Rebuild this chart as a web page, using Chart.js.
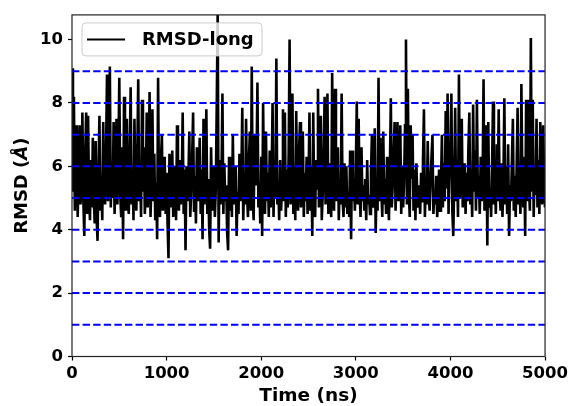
<!DOCTYPE html>
<html>
<head>
<meta charset="utf-8">
<script src="https://cdn.jsdelivr.net/npm/chart.js@4.4.1/dist/chart.umd.min.js"></script>
<style>
  html, body { margin: 0; padding: 0; background: #fff; }
  #wrap { width: 571px; height: 406px; }
</style>
</head>
<body>
<div id="wrap"><canvas id="cRmsd" width="571" height="406"></canvas></div>
<script>
// ===== RMSD trace, one value every 10 ns =====
const stepNs = 10;
const rmsdLong = [
    9.1, 5.2, 8.2, 4.6, 6.3, 7.3, 4.4, 5.8, 7.3, 4.8,
    5.6, 7.7, 4.9, 3.8, 6.4, 7.7, 4.5, 7.6, 5.1, 4.3,
    6.2, 4.7, 6.9, 5.0, 4.2, 6.8, 4.4, 3.65, 5.9, 7.6,
    4.6, 5.7, 4.3, 7.4, 5.2, 4.8, 6.5, 8.9, 4.9, 5.8,
    9.15, 4.7, 6.1, 5.0, 7.4, 4.5, 5.6, 7.5, 4.8, 6.3,
    8.8, 5.1, 4.4, 6.6, 3.7, 8.2, 5.3, 4.6, 7.5, 5.0,
    4.5, 6.4, 8.5, 4.8, 5.9, 4.3, 7.5, 5.5, 4.6, 6.2,
    8.75, 4.9, 5.8, 4.4, 8.1, 5.2, 6.6, 4.5, 5.4, 7.7,
    4.7, 6.0, 8.35, 4.4, 5.6, 7.8, 4.9, 6.4, 4.3, 5.5,
    3.7, 8.8, 5.0, 4.4, 6.2, 7.0, 4.6, 5.3, 6.3, 4.5,
    5.8, 4.2, 3.1, 6.4, 4.7, 5.5, 6.5, 4.4, 5.2, 6.0,
    4.3, 7.3, 5.0, 4.6, 6.2, 4.8, 5.5, 7.7, 4.5, 5.9,
    3.35, 6.0, 4.9, 5.6, 7.1, 4.4, 5.2, 6.3, 7.7, 4.6,
    5.7, 4.2, 6.6, 4.9, 5.4, 6.9, 4.5, 5.9, 3.7, 7.5,
    4.8, 6.1, 7.8, 4.5, 5.6, 4.0, 3.4, 6.6, 5.0, 4.6,
    6.0, 4.4, 5.3, 7.95, 10.9, 3.6, 6.2, 4.8, 5.6, 8.3,
    4.5, 6.1, 4.9, 5.4, 3.9, 3.35, 6.3, 4.6, 5.8, 4.4,
    7.0, 4.8, 5.5, 6.0, 3.8, 5.2, 4.5, 6.4, 4.9, 5.7,
    7.85, 4.3, 5.6, 4.8, 7.5, 5.1, 4.4, 6.2, 7.1, 4.6,
    9.15, 5.0, 4.3, 7.0, 5.4, 6.0, 8.65, 4.7, 5.5, 4.2,
    6.3, 3.8, 8.0, 5.2, 4.5, 7.1, 4.9, 5.8, 4.4, 6.5,
    4.7, 5.6, 8.0, 4.4, 6.1, 5.0, 9.4, 4.8, 5.5, 4.3,
    6.2, 4.6, 5.3, 7.8, 4.9, 7.7, 4.4, 5.9, 4.7, 6.4,
    10.0, 4.8, 5.4, 8.3, 4.5, 6.0, 4.3, 7.75, 5.1, 4.6,
    6.5, 7.4, 4.7, 5.6, 7.1, 4.4, 5.8, 4.9, 6.3, 4.5,
    5.5, 7.7, 4.6, 6.0, 3.8, 7.7, 5.0, 4.4, 6.2, 5.3,
    8.45, 4.7, 5.7, 7.6, 4.3, 5.1, 6.3, 8.2, 4.8, 5.6,
    8.3, 4.5, 6.1, 5.0, 4.4, 8.95, 5.2, 4.6, 8.45, 4.9,
    5.8, 6.6, 4.3, 5.5, 4.8, 8.3, 5.0, 4.4, 6.1, 4.7,
    6.0, 4.5, 5.2, 4.4, 6.5, 3.7, 6.5, 4.9, 5.6, 4.6,
    5.9, 8.05, 4.8, 7.5, 5.2, 4.4, 6.6, 4.9, 5.4, 4.6,
    5.6, 4.3, 6.2, 4.8, 5.1, 4.5, 5.8, 7.0, 4.7, 5.3,
    7.2, 3.9, 5.5, 4.6, 8.8, 4.9, 6.9, 5.2, 4.4, 7.1,
    4.8, 5.6, 4.5, 6.3, 5.0, 4.3, 5.9, 8.15, 4.7, 5.4,
    6.4, 7.4, 4.6, 5.8, 7.4, 4.9, 5.3, 7.3, 4.5, 6.0,
    4.7, 5.5, 7.3, 10.0, 4.8, 8.45, 5.2, 4.4, 7.3, 5.6,
    7.0, 4.6, 5.9, 4.3, 6.1, 5.0, 4.7, 5.4, 4.5, 5.8,
    4.9, 6.2, 7.8, 4.4, 5.6, 4.8, 6.8, 5.1, 4.6, 5.5,
    6.3, 7.0, 4.5, 5.2, 4.8, 5.7, 4.4, 5.0, 5.9, 4.6,
    5.4, 7.0, 4.7, 6.1, 4.9, 7.75, 5.3, 8.3, 4.5, 5.8,
    6.4, 8.3, 4.6, 3.8, 5.5, 7.85, 4.9, 6.2, 4.4, 8.9,
    5.0, 6.3, 7.5, 4.7, 5.4, 6.1, 4.5, 5.8, 4.9, 6.6,
    7.7, 4.8, 5.6, 4.4, 7.95, 5.2, 6.5, 4.6, 8.1, 5.0,
    5.7, 4.5, 6.3, 4.9, 5.4, 8.75, 4.6, 5.9, 7.3, 3.5,
    7.4, 4.7, 5.3, 4.4, 6.0, 8.05, 4.8, 5.6, 4.5, 6.7,
    4.9, 7.8, 5.2, 4.6, 6.1, 4.4, 5.5, 8.15, 4.8, 6.0,
    4.5, 6.7, 3.8, 5.4, 4.9, 6.2, 7.5, 4.6, 5.7, 4.4,
    6.0, 7.85, 4.8, 5.3, 4.5, 8.6, 5.6, 4.7, 6.3, 3.8,
    8.1, 4.9, 8.1, 5.4, 4.6, 10.05, 5.2, 8.1, 4.4, 6.0,
    5.1, 7.5, 4.7, 6.2, 4.5, 7.4, 5.3, 4.8, 7.3, 5.6,
    4.7
];
const refLevels = [1, 2, 3, 4, 5, 6, 7, 8, 9];
const yTicks = [0, 2, 4, 6, 8, 10];
const xTicks = [0, 1000, 2000, 3000, 4000, 5000];
const seriesLabel = 'RMSD-long';

const FONT = 'DejaVu Sans';
const tickFont = { family: FONT, weight: 'bold', size: 16.5 };

const rmsdPoints = rmsdLong.map((v, i) => ({ x: i * stepNs, y: v }));
const refSets = refLevels.map(v => ({
    label: 'ref' + v,
    data: [{ x: xTicks[0], y: v }, { x: xTicks[xTicks.length - 1], y: v }],
    borderColor: '#0000ff', borderWidth: 2, borderDash: [7.4, 3.2],
    pointRadius: 0, order: 0
}));

// spines, legend box and axis titles, matplotlib-like
const decor = {
    id: 'decor',
    afterDatasetsDraw(chart) {
        const { ctx, chartArea: a } = chart;
        ctx.save();
        ctx.strokeStyle = '#222';
        ctx.lineWidth = 1.2;
        ctx.strokeRect(a.left, a.top, a.right - a.left, a.bottom - a.top);
        ctx.restore();
    },
    afterDraw(chart) {
        const { ctx, chartArea: a } = chart;
        ctx.save();
        // legend
        const lx = a.left + 10, ly = a.top + 8, lw = 180, lh = 33, r = 4;
        ctx.beginPath();
        ctx.roundRect(lx, ly, lw, lh, r);
        ctx.fillStyle = 'rgba(255,255,255,0.8)';
        ctx.fill();
        ctx.strokeStyle = '#cccccc';
        ctx.lineWidth = 1;
        ctx.stroke();
        ctx.beginPath();
        ctx.moveTo(lx + 5, ly + lh / 2);
        ctx.lineTo(lx + 43, ly + lh / 2);
        ctx.strokeStyle = '#000';
        ctx.lineWidth = 2;
        ctx.stroke();
        ctx.fillStyle = '#000';
        ctx.font = `bold 18px "${FONT}"`;
        ctx.textBaseline = 'middle';
        ctx.textAlign = 'left';
        ctx.fillText(seriesLabel, lx + 60, ly + lh / 2 + 1);
        // x title
        ctx.textAlign = 'center';
        ctx.font = `bold 18.5px "${FONT}"`;
        ctx.fillText('Time (ns)', (a.left + a.right) / 2, 396);
        // y title with italic Angstrom
        ctx.translate(22, (a.top + a.bottom) / 2);
        ctx.rotate(-Math.PI / 2);
        const parts = [['RMSD (', 'bold'], ['\u00C5', 'italic bold'], [')', 'bold']];
        let total = 0;
        parts.forEach(p => { ctx.font = `${p[1]} 18px "${FONT}"`; total += ctx.measureText(p[0]).width; });
        let x = -total / 2;
        ctx.textAlign = 'left';
        parts.forEach(p => {
            ctx.font = `${p[1]} 18px "${FONT}"`;
            ctx.fillText(p[0], x, 0);
            x += ctx.measureText(p[0]).width;
        });
        ctx.restore();
    }
};

new Chart(document.getElementById('cRmsd').getContext('2d'), {
    type: 'line',
    data: { datasets: [
        { label: seriesLabel, data: rmsdPoints, borderColor: '#000', borderWidth: 2.6, pointRadius: 0, tension: 0, order: 1 },
        ...refSets
    ]},
    options: {
        responsive: false, animation: false, events: [],
        layout: { padding: { left: 0, top: 4, right: 25.5, bottom: 0 } },
        scales: {
            x: { type: 'linear', min: 0, max: 5000,
                afterFit: s => { s.height = 49.5; },
                afterBuildTicks: s => { s.ticks = xTicks.map(v => ({ value: v })); },
                border: { display: false },
                grid: { drawOnChartArea: false, tickLength: 4, tickColor: '#000', tickWidth: 1.2 },
                ticks: { color: '#000', font: tickFont, padding: 3, maxRotation: 0, callback: v => String(v) } },
            y: { type: 'linear', min: 0, max: 10.78,
                afterFit: s => { s.width = 72; },
                afterBuildTicks: s => { s.ticks = yTicks.map(v => ({ value: v })); },
                border: { display: false },
                grid: { drawOnChartArea: false, tickLength: 4, tickColor: '#000', tickWidth: 1.2 },
                ticks: { color: '#000', font: tickFont, padding: 5, callback: v => String(v) } }
        },
        plugins: { legend: { display: false }, tooltip: { enabled: false } }
    },
    plugins: [decor]
});
</script>
</body>
</html>
